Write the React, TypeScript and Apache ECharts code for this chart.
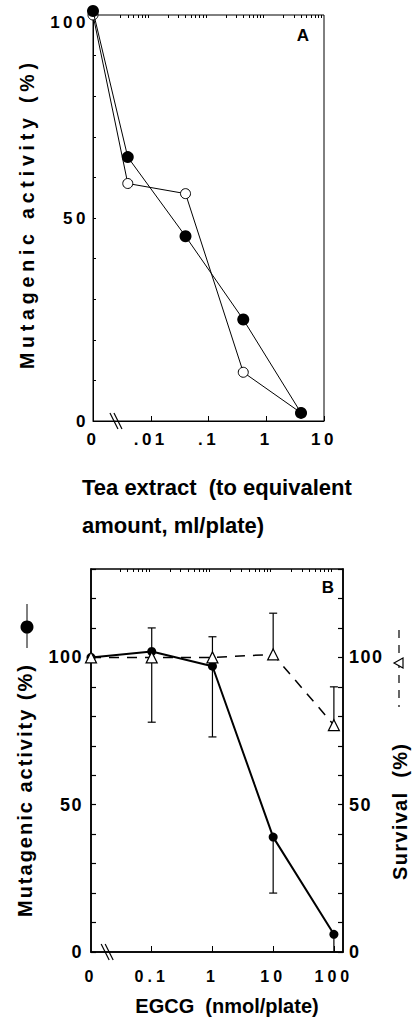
import React, { useEffect, useRef } from 'react';
import * as echarts from 'echarts';

// ---------- Panel A: tea extract ----------
const teaDoses = [0, 0.004, 0.04, 0.4, 4];
const teaFilled = [101, 65, 45.5, 25, 2];
const teaOpen = [100, 58.5, 56, 12, 2];
const teaTickValues = [0, 0.01, 0.1, 1, 10];
const teaTickLabels = ['0', '.01', '.1', '1', '10'];
const yLabelValuesA = [0, 50, 100];

// ---------- Panel B: EGCG ----------
const egcgDoses = [0, 0.1, 1, 10, 100];
const mutagenic = [100, 102, 97, 39, 6];
const mutagenicErrLow: (number | null)[] = [null, 78, 73, 20, 0];
const mutagenicErrHigh: (number | null)[] = [null, 110, 107, null, null];
const survival = [100, 100, 100, 101, 77];
const survivalErrLow: (number | null)[] = [null, null, null, null, null];
const survivalErrHigh: (number | null)[] = [null, null, null, 115, 90];
const egcgTickValues = [0, 0.1, 1, 10, 100];
const egcgTickLabels = ['0', '0.1', '1', '10', '100'];
const yLabelValuesB = [0, 50, 100];

const FONT = '"Liberation Sans", Arial, Helvetica, sans-serif';

// log10 scale with a broken-axis "0"
const ZERO_A = -3;
const ZERO_B = -2;
const fA = (v: number) => (v === 0 ? ZERO_A : Math.log10(v));
const fB = (v: number) => (v === 0 ? ZERO_B : Math.log10(v));
const MAX_A = 1;
const MAX_B = 2.15;
const BREAK_A = -2.62;
const BREAK_B = -1.75;

// letter spacing (px) of tick labels keyed by their font size
const SPACING: Record<string, number> = { '16px': 4, '17px': 3.5, '18px': 1.5 };

function minorTicks(decades: number[], lo: number, hi: number) {
  const out: number[] = [];
  decades.forEach((d) => {
    for (let k = 2; k <= 9; k++) {
      const l = Math.log10(k * Math.pow(10, d));
      if (l > lo && l < hi) out.push(l);
    }
  });
  return out;
}

const minorA = minorTicks([-3, -2, -1, 0], -2.56, MAX_A);
const minorB = minorTicks([-2, -1, 0, 1], -1.56, MAX_B);

function labelMap(values: number[], labels: string[], f: (v: number) => number) {
  const m: Record<string, string> = {};
  values.forEach((v, i) => {
    m[String(f(v))] = labels[i];
  });
  return m;
}

export default function App() {
  const ref = useRef<HTMLDivElement>(null);

  useEffect(() => {
    if (!ref.current) return;
    const chart = echarts.init(ref.current, undefined, { renderer: 'svg' });

    const mapA = labelMap(teaTickValues, teaTickLabels, fA);
    const mapB = labelMap(egcgTickValues, egcgTickLabels, fB);
    const black = '#000';

    const applySpacing = () => {
      const el = ref.current;
      if (!el) return;
      el.querySelectorAll('text').forEach((t) => {
        const s = (t.textContent || '').trim();
        const fs = window.getComputedStyle(t).fontSize;
        if (s.startsWith('Mutagenic')) {
          t.setAttribute('lengthAdjust', 'spacing');
          t.setAttribute('textLength', fs === '19.5px' ? '306' : '252');
        } else if (s.startsWith('Survival')) {
          t.setAttribute('lengthAdjust', 'spacing');
          t.setAttribute('textLength', '136');
        } else if (/^[0-9.]+$/.test(s)) {
          const sp = SPACING[fs] || 0;
          if (sp) t.setAttribute('letter-spacing', sp + 'px');
        }
      });
    };
    chart.on('finished', applySpacing);

    const breakSeries = (xIdx: number, yIdx: number, bx: number) => ({
      type: 'custom',
      xAxisIndex: xIdx,
      yAxisIndex: yIdx,
      clip: false,
      z: 5,
      silent: true,
      data: [[bx, 0]],
      renderItem: (params: any, api: any) => {
        const p = api.coord([api.value(0), api.value(1)]);
        return {
          type: 'group',
          children: [0, 4].map((dx) => ({
            type: 'line',
            shape: { x1: p[0] - 5 + dx, y1: p[1] - 8, x2: p[0] + 3 + dx, y2: p[1] + 8 },
            style: { stroke: black, lineWidth: 1.2 },
          })),
        };
      },
    });

    const errorSeries = (values: number[], lows: (number | null)[], highs: (number | null)[]) => ({
      type: 'custom',
      xAxisIndex: 2,
      yAxisIndex: 1,
      clip: false,
      z: 2,
      silent: true,
      data: egcgDoses.map((d, i) => [fB(d), values[i]]),
      renderItem: (params: any, api: any) => {
        const i = params.dataIndex;
        const x = api.value(0);
        const p = api.coord([x, values[i]]);
        const children: any[] = [];
        const cap = 4;
        [lows[i], highs[i]].forEach((e) => {
          if (e == null) return;
          const q = api.coord([x, e]);
          children.push({
            type: 'line',
            shape: { x1: p[0], y1: p[1], x2: q[0], y2: q[1] },
            style: { stroke: black, lineWidth: 1.2 },
          });
          children.push({
            type: 'line',
            shape: { x1: q[0] - cap, y1: q[1], x2: q[0] + cap, y2: q[1] },
            style: { stroke: black, lineWidth: 1.2 },
          });
        });
        return { type: 'group', children };
      },
    });

    const tickLabelStyle = { color: black, fontFamily: FONT, fontWeight: 'bold' as const };
    const ticksA = [0, 10, 20, 30, 40, 50, 60, 70, 80, 90, 100];
    const ticksB = [0, 10, 20, 30, 40, 50, 60, 70, 80, 90, 100, 110, 120, 130];

    chart.setOption({
      animation: false,
      backgroundColor: '#fff',
      grid: [
        { left: 93, top: 15, width: 231, height: 406, show: true, borderColor: black, borderWidth: 1, backgroundColor: 'transparent' },
        { left: 91, top: 569, width: 252, height: 383, show: true, borderColor: black, borderWidth: 1.5, backgroundColor: 'transparent' },
      ],
      xAxis: [
        {
          type: 'value', gridIndex: 0, min: ZERO_A, max: MAX_A,
          axisLine: { show: true, onZero: false, lineStyle: { color: black, width: 1 } },
          axisTick: { show: true, inside: true, length: 5, customValues: [-2, -1, 0, 1], lineStyle: { color: black } },
          axisLabel: {
            ...tickLabelStyle, fontSize: 17, margin: 10,
            customValues: teaTickValues.map(fA),
            formatter: (v: number) => mapA[String(v)] ?? '',
          },
          splitLine: { show: false },
        },
        {
          type: 'value', gridIndex: 0, min: ZERO_A, max: MAX_A,
          axisLine: { show: false, onZero: false },
          axisTick: { show: true, inside: true, length: 3, customValues: minorA, lineStyle: { color: black } },
          axisLabel: { show: false },
          splitLine: { show: false },
        },
        {
          type: 'value', gridIndex: 1, min: ZERO_B, max: MAX_B,
          axisLine: { show: true, onZero: false, lineStyle: { color: black, width: 1.5 } },
          axisTick: { show: true, inside: true, length: 6, customValues: [-1, 0, 1, 2], lineStyle: { color: black } },
          axisLabel: {
            ...tickLabelStyle, fontSize: 16, margin: 16,
            customValues: egcgTickValues.map(fB),
            formatter: (v: number) => mapB[String(v)] ?? '',
          },
          splitLine: { show: false },
        },
        {
          type: 'value', gridIndex: 1, min: ZERO_B, max: MAX_B,
          axisLine: { show: false, onZero: false },
          axisTick: { show: true, inside: true, length: 3, customValues: minorB, lineStyle: { color: black } },
          axisLabel: { show: false },
          splitLine: { show: false },
        },
      ],
      yAxis: [
        {
          type: 'value', gridIndex: 0, min: 0, max: 100,
          axisLine: { show: true, onZero: false, lineStyle: { color: black, width: 1 } },
          axisTick: { show: true, inside: true, length: 3, customValues: ticksA, lineStyle: { color: black } },
          axisLabel: {
            ...tickLabelStyle, fontSize: 17, margin: 4, customValues: yLabelValuesA,
            formatter: (v: number) => (v === 100 ? '{top|' + v + '}' : String(v)),
            rich: { top: { ...tickLabelStyle, fontSize: 17, padding: [14, 0, 0, 0] } },
          },
          splitLine: { show: false },
        },
        {
          type: 'value', gridIndex: 1, min: 0, max: 130, position: 'left',
          axisLine: { show: true, onZero: false, lineStyle: { color: black, width: 1.5 } },
          axisTick: { show: true, inside: true, length: 5, customValues: ticksB, lineStyle: { color: black, width: 1.2 } },
          axisLabel: { ...tickLabelStyle, fontSize: 18, margin: 8, customValues: yLabelValuesB },
          splitLine: { show: false },
        },
        {
          type: 'value', gridIndex: 1, min: 0, max: 130, position: 'right',
          axisLine: { show: true, onZero: false, lineStyle: { color: black, width: 1.5 } },
          axisTick: { show: true, inside: true, length: 5, customValues: ticksB, lineStyle: { color: black, width: 1.2 } },
          axisLabel: { ...tickLabelStyle, fontSize: 18, margin: 6, customValues: yLabelValuesB },
          splitLine: { show: false },
        },
      ],
      series: [
        {
          name: 'Open', type: 'line', xAxisIndex: 0, yAxisIndex: 0, clip: false, z: 2,
          data: teaDoses.map((d, i) => [fA(d), teaOpen[i]]),
          symbol: 'circle', symbolSize: 10,
          itemStyle: { color: '#fff', borderColor: black, borderWidth: 1 },
          lineStyle: { color: black, width: 1 },
        },
        {
          name: 'Filled', type: 'line', xAxisIndex: 0, yAxisIndex: 0, clip: false, z: 3,
          data: teaDoses.map((d, i) => [fA(d), teaFilled[i]]),
          symbol: 'circle', symbolSize: 12,
          itemStyle: { color: black, borderColor: black, borderWidth: 0 },
          lineStyle: { color: black, width: 1 },
        },
        breakSeries(0, 0, BREAK_A),
        errorSeries(mutagenic, mutagenicErrLow, mutagenicErrHigh),
        errorSeries(survival, survivalErrLow, survivalErrHigh),
        {
          name: 'Mutagenic activity', type: 'line', xAxisIndex: 2, yAxisIndex: 1, clip: false, z: 3,
          data: egcgDoses.map((d, i) => [fB(d), mutagenic[i]]),
          symbol: 'circle', symbolSize: 9,
          itemStyle: { color: black, borderWidth: 0 },
          lineStyle: { color: black, width: 2 },
        },
        {
          name: 'Survival', type: 'line', xAxisIndex: 2, yAxisIndex: 2, clip: false, z: 4,
          data: egcgDoses.map((d, i) => [fB(d), survival[i]]),
          symbol: 'triangle', symbolSize: 11,
          itemStyle: { color: '#fff', borderColor: black, borderWidth: 1.2 },
          lineStyle: { color: black, width: 1.5, type: [10, 8] },
        },
        breakSeries(2, 1, BREAK_B),
      ],
      graphic: [
        {
          type: 'text', x: 27, y: 369, rotation: Math.PI / 2,
          style: { text: 'Mutagenic activity (%)', fontFamily: FONT, fontWeight: 'bold', fontSize: 19.5, fill: black, align: 'left', verticalAlign: 'middle' },
        },
        {
          type: 'text', x: 82, y: 506,
          style: { text: 'Tea extract  (to equivalent\namount, ml/plate)', fontFamily: FONT, fontWeight: 'bold', fontSize: 22, lineHeight: 38, fill: black, align: 'left', verticalAlign: 'middle' },
        },
        {
          type: 'text', x: 303, y: 35,
          style: { text: 'A', fontFamily: FONT, fontWeight: 'bold', fontSize: 17, fill: black, align: 'center', verticalAlign: 'middle' },
        },
        {
          type: 'text', x: 328, y: 587,
          style: { text: 'B', fontFamily: FONT, fontWeight: 'bold', fontSize: 17, fill: black, align: 'center', verticalAlign: 'middle' },
        },
        {
          type: 'text', x: 25, y: 917, rotation: Math.PI / 2,
          style: { text: 'Mutagenic activity (%)', fontFamily: FONT, fontWeight: 'bold', fontSize: 20, fill: black, align: 'left', verticalAlign: 'middle' },
        },
        { type: 'line', shape: { x1: 27, y1: 604, x2: 27, y2: 648 }, style: { stroke: black, lineWidth: 1 } },
        { type: 'circle', shape: { cx: 27, cy: 627, r: 6.5 }, style: { fill: black } },
        {
          type: 'text', x: 400, y: 880, rotation: Math.PI / 2,
          style: { text: 'Survival  (%)', fontFamily: FONT, fontWeight: 'bold', fontSize: 20, fill: black, align: 'left', verticalAlign: 'middle' },
        },
        { type: 'line', shape: { x1: 399, y1: 630, x2: 399, y2: 707 }, style: { stroke: black, lineWidth: 1.2, lineDash: [8, 7] } },
        { type: 'polygon', z: 10, shape: { points: [[394, 663], [403, 658], [403, 668]] }, style: { fill: '#fff', stroke: black, lineWidth: 1.2 } },
        {
          type: 'text', x: 227, y: 1006,
          style: { text: 'EGCG  (nmol/plate)', fontFamily: FONT, fontWeight: 'bold', fontSize: 20, fill: black, align: 'center', verticalAlign: 'middle' },
        },
      ],
    });

    applySpacing();
    const raf = requestAnimationFrame(applySpacing);

    return () => {
      cancelAnimationFrame(raf);
      chart.dispose();
    };
  }, []);

  return (
    <div
      ref={ref}
      style={{ position: 'absolute', left: 0, top: 0, width: 412, height: 1019, background: '#fff' }}
    />
  );
}
